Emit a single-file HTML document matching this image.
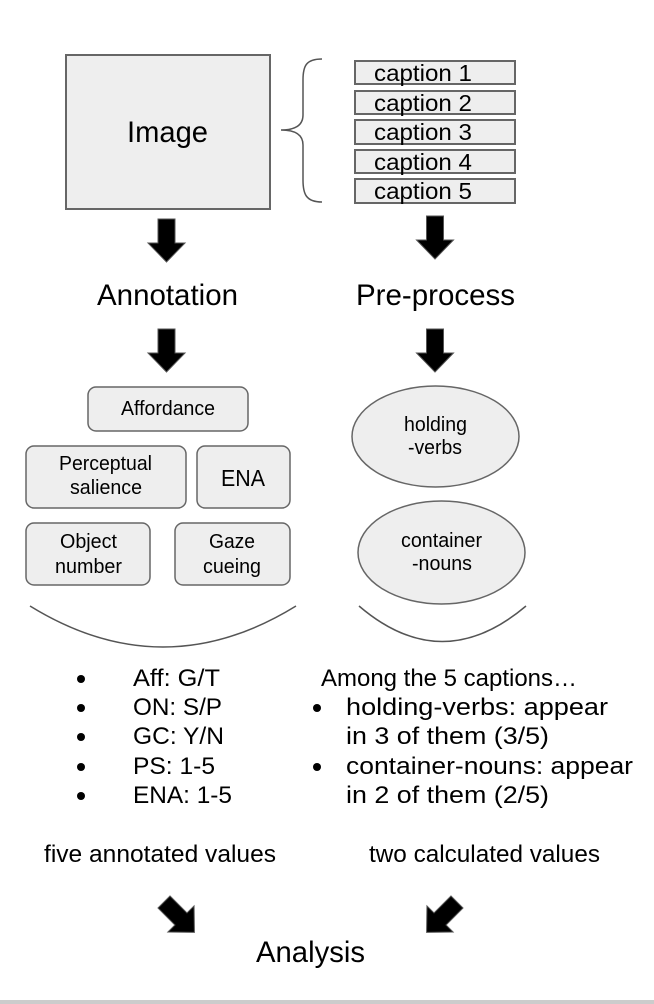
<!DOCTYPE html>
<html><head><meta charset="utf-8"><style>
html,body{margin:0;padding:0;background:#fff;}
svg{display:block;}
text{font-family:"Liberation Sans",Arial,sans-serif;fill:#000;}
</style></head><body>
<svg width="654" height="1004" viewBox="0 0 654 1004" xmlns="http://www.w3.org/2000/svg">
<defs>
<path id="darr" d="M-8.5,0 H8.5 V24 H18.5 L0,43 L-18.5,24 H-8.5 Z" fill="#000" stroke="#555" stroke-width="1"/>
</defs>
<rect x="66" y="55" width="204" height="154" fill="#eeeeee" stroke="#666" stroke-width="2"/>
<text x="127" y="142" font-size="30" textLength="81" lengthAdjust="spacingAndGlyphs">Image</text>
<path d="M322,59 C306,59 303,66 303,80 V115 C303,125 296,130 281,130 C296,130 303,135 303,145 V180 C303,194 306,202 322,202" fill="none" stroke="#555" stroke-width="1.5"/>
<g fill="#eeeeee" stroke="#666" stroke-width="2">
<rect x="355" y="61" width="160" height="23"/>
<rect x="355" y="91" width="160" height="23"/>
<rect x="355" y="120" width="160" height="24"/>
<rect x="355" y="150" width="160" height="23"/>
<rect x="355" y="179" width="160" height="24"/>
</g>
<g font-size="23">
<text x="374" y="81" textLength="98" lengthAdjust="spacingAndGlyphs">caption 1</text>
<text x="374" y="111" textLength="98" lengthAdjust="spacingAndGlyphs">caption 2</text>
<text x="374" y="140" textLength="98" lengthAdjust="spacingAndGlyphs">caption 3</text>
<text x="374" y="170" textLength="98" lengthAdjust="spacingAndGlyphs">caption 4</text>
<text x="374" y="199" textLength="98" lengthAdjust="spacingAndGlyphs">caption 5</text>
</g>
<use href="#darr" x="166.5" y="219"/>
<use href="#darr" x="435" y="216"/>
<use href="#darr" x="166.5" y="329"/>
<use href="#darr" x="435" y="329"/>
<text x="97" y="305" font-size="30" textLength="141" lengthAdjust="spacingAndGlyphs">Annotation</text>
<text x="356" y="305" font-size="30" textLength="159" lengthAdjust="spacingAndGlyphs">Pre-process</text>
<g fill="#eeeeee" stroke="#666" stroke-width="1.5">
<rect x="88" y="387" width="160" height="44" rx="8"/>
<rect x="26" y="446" width="160" height="62" rx="8"/>
<rect x="197" y="446" width="93" height="62" rx="8"/>
<rect x="26" y="523" width="124" height="62" rx="8"/>
<rect x="175" y="523" width="115" height="62" rx="8"/>
<ellipse cx="435.5" cy="436.5" rx="83.5" ry="50.5"/>
<ellipse cx="441.5" cy="552.5" rx="83.5" ry="51.5"/>
</g>
<g font-size="20">
<text x="121" y="415" textLength="94" lengthAdjust="spacingAndGlyphs">Affordance</text>
<text x="59" y="470" textLength="93" lengthAdjust="spacingAndGlyphs">Perceptual</text>
<text x="70" y="494" textLength="72" lengthAdjust="spacingAndGlyphs">salience</text>
<text x="221" y="486" font-size="23" textLength="44" lengthAdjust="spacingAndGlyphs">ENA</text>
<text x="60" y="548" textLength="57" lengthAdjust="spacingAndGlyphs">Object</text>
<text x="55" y="573" textLength="67" lengthAdjust="spacingAndGlyphs">number</text>
<text x="209" y="548" textLength="46" lengthAdjust="spacingAndGlyphs">Gaze</text>
<text x="203" y="573" textLength="58" lengthAdjust="spacingAndGlyphs">cueing</text>
<text x="404" y="431" textLength="63" lengthAdjust="spacingAndGlyphs">holding</text>
<text x="408" y="454" textLength="54" lengthAdjust="spacingAndGlyphs">-verbs</text>
<text x="401" y="547" textLength="81" lengthAdjust="spacingAndGlyphs">container</text>
<text x="412" y="570" textLength="60" lengthAdjust="spacingAndGlyphs">-nouns</text>
</g>
<path d="M30,606 Q163,688 296,606" fill="none" stroke="#555" stroke-width="1.5"/>
<path d="M359,606 Q442,677 526,606" fill="none" stroke="#555" stroke-width="1.5"/>
<g fill="#000">
<circle cx="81" cy="679" r="4"/><circle cx="81" cy="708" r="4"/><circle cx="81" cy="737" r="4"/><circle cx="81" cy="767" r="4"/><circle cx="81" cy="796" r="4"/>
<circle cx="317" cy="708" r="4"/><circle cx="317" cy="767" r="4"/>
</g>
<g font-size="24">
<text x="133" y="686" textLength="87" lengthAdjust="spacingAndGlyphs">Aff: G/T</text>
<text x="133" y="715" textLength="89" lengthAdjust="spacingAndGlyphs">ON: S/P</text>
<text x="133" y="744" textLength="91" lengthAdjust="spacingAndGlyphs">GC: Y/N</text>
<text x="133" y="774" textLength="82" lengthAdjust="spacingAndGlyphs">PS: 1-5</text>
<text x="133" y="803" textLength="99" lengthAdjust="spacingAndGlyphs">ENA: 1-5</text>
<text x="44" y="862" textLength="232" lengthAdjust="spacingAndGlyphs">five annotated values</text>
<text x="321" y="686" textLength="256" lengthAdjust="spacingAndGlyphs">Among the 5 captions…</text>
<text x="346" y="715" textLength="262" lengthAdjust="spacingAndGlyphs">holding-verbs: appear</text>
<text x="346" y="744" textLength="203" lengthAdjust="spacingAndGlyphs">in 3 of them (3/5)</text>
<text x="346" y="774" textLength="287" lengthAdjust="spacingAndGlyphs">container-nouns: appear</text>
<text x="346" y="803" textLength="203" lengthAdjust="spacingAndGlyphs">in 2 of them (2/5)</text>
<text x="369" y="862" textLength="231" lengthAdjust="spacingAndGlyphs">two calculated values</text>
</g>
<use href="#darr" transform="translate(164,902) rotate(-45)"/>
<use href="#darr" transform="translate(457,902) rotate(45)"/>
<text x="256" y="962" font-size="30" textLength="109" lengthAdjust="spacingAndGlyphs">Analysis</text>
<rect x="0" y="1000" width="654" height="4" fill="#cccccc"/>
</svg>
</body></html>
